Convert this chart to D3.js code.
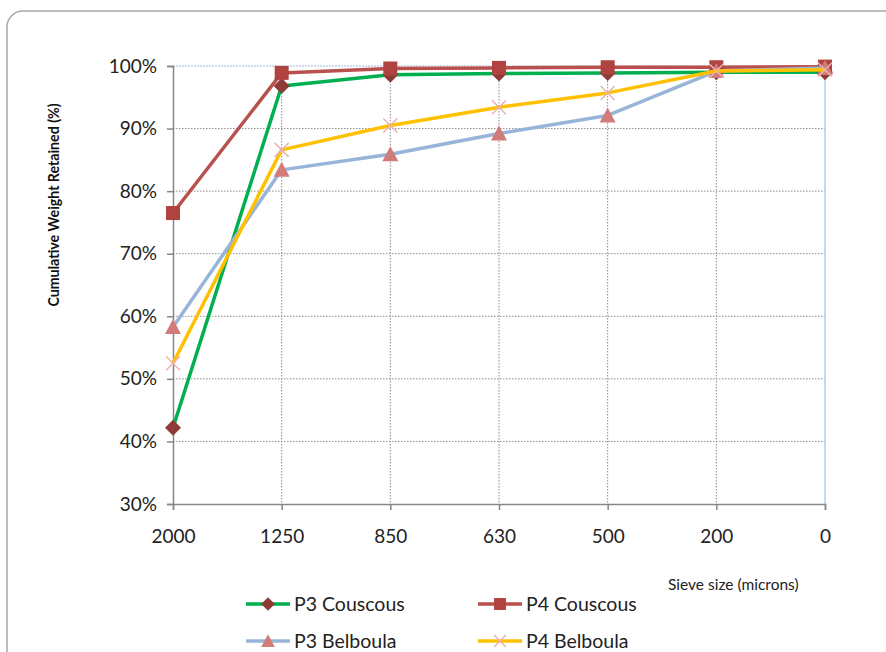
<!DOCTYPE html>
<html><head><meta charset="utf-8">
<script src="https://cdn.jsdelivr.net/npm/d3@7"></script>
<style>body{margin:0;background:#fff}svg{display:block}text{font-family:Lato,"Open Sans",sans-serif}</style>
</head><body>
<svg id="c" width="886" height="652"></svg>
<script>
const categories = ["2000","1250","850","630","500","200","0"];
const p3Couscous = [42.2, 96.8, 98.6, 98.8, 98.9, 99.0, 99.0];
const p4Couscous = [76.5, 98.9, 99.6, 99.7, 99.8, 99.8, 99.9];
const p3Belboula = [58.3, 83.4, 85.9, 89.2, 92.1, 99.2, 99.7];
const p4Belboula = [52.5, 86.6, 90.5, 93.4, 95.7, 99.2, 99.4];
const yTicks = [30,40,50,60,70,80,90,100];
const seriesNames = ["P3 Couscous","P4 Couscous","P3 Belboula","P4 Belboula"];

const series = [
  {name:seriesNames[0], values:p3Couscous, line:"#00B050", mk:"#8E3B38", shape:"diamond"},
  {name:seriesNames[1], values:p4Couscous, line:"#B9504D", mk:"#B0433F", shape:"square"},
  {name:seriesNames[2], values:p3Belboula, line:"#98B4D8", mk:"#D27C7A", shape:"triangle"},
  {name:seriesNames[3], values:p4Belboula, line:"#FFC000", mk:"#E8B4B0", shape:"x"}
];

const svg = d3.select("#c");
// frame
svg.append("rect").attr("x",7).attr("y",11).attr("width",900).attr("height",660)
  .attr("rx",16).attr("fill","#fff").attr("stroke","#a6a6a6").attr("stroke-width",1.5);

const L=173,R=825,T=66,B=504;
const x = d3.scalePoint().domain(categories).range([L,R]);
const y = d3.scaleLinear().domain([30,100]).range([B,T]);

// gridlines
const g = svg.append("g");
g.selectAll(".hg").data(yTicks.filter(t=>t>30 && t<100)).join("line")
  .attr("x1",L).attr("x2",R).attr("y1",d=>y(d)).attr("y2",d=>y(d))
  .attr("stroke","#8c8c8c").attr("stroke-width",1).attr("stroke-dasharray","1.5,1.5");
g.selectAll(".vg").data(categories.slice(1,-1)).join("line")
  .attr("x1",d=>x(d)).attr("x2",d=>x(d)).attr("y1",T).attr("y2",B)
  .attr("stroke","#8c8c8c").attr("stroke-width",1).attr("stroke-dasharray","1.5,1.5");
// plot border top/right light blue
g.append("line").attr("x1",L).attr("x2",R).attr("y1",y(100)).attr("y2",y(100))
  .attr("stroke","#9fb6d6").attr("stroke-width",1).attr("stroke-dasharray","2,1");
g.append("line").attr("x1",R).attr("x2",R).attr("y1",T).attr("y2",B)
  .attr("stroke","#b8cce4").attr("stroke-width",1.5);

// axes
const yAxis = d3.axisLeft(y).tickValues(yTicks).tickFormat(d=>d+"%").tickSize(6).tickPadding(10);
const ya = svg.append("g").attr("transform",`translate(${L},0)`).call(yAxis);
ya.select(".domain").attr("stroke","#868686").attr("stroke-width",1.5);
ya.selectAll(".tick line").attr("stroke","#868686").attr("stroke-width",1.5);
ya.selectAll("text").attr("font-size",19).attr("fill","#222");

const xAxis = d3.axisBottom(x).tickSize(6).tickPadding(20);
const xa = svg.append("g").attr("transform",`translate(0,${B})`).call(xAxis);
xa.select(".domain").attr("stroke","#868686").attr("stroke-width",1.5);
xa.selectAll(".tick line").attr("stroke","#868686").attr("stroke-width",1.5);
xa.selectAll("text").attr("font-size",19).attr("fill","#222");

// titles
svg.append("text").attr("transform","translate(59,205) rotate(-90)").attr("text-anchor","middle")
  .attr("font-size",14.2).attr("font-weight","bold").attr("fill","#111").text("Cumulative Weight Retained (%)");
svg.append("text").attr("x",668).attr("y",590).attr("font-size",15.5).attr("fill","#222").text("Sieve size (microns)");

function marker(sel, s, cx, cy, k){
  k = k||1;
  if(s.shape==="diamond"){
    sel.append("path").attr("d",`M${cx},${cy-8*k}L${cx+8*k},${cy}L${cx},${cy+8*k}L${cx-8*k},${cy}Z`).attr("fill",s.mk);
  } else if(s.shape==="square"){
    sel.append("rect").attr("x",cx-7*k).attr("y",cy-7*k).attr("width",14*k).attr("height",14*k).attr("fill",s.mk);
  } else if(s.shape==="triangle"){
    sel.append("path").attr("d",`M${cx},${cy-8*k}L${cx+8*k},${cy+7*k}L${cx-8*k},${cy+7*k}Z`).attr("fill",s.mk);
  } else {
    sel.append("path").attr("d",`M${cx-7*k},${cy-7*k}L${cx+7*k},${cy+7*k}M${cx+7*k},${cy-7*k}L${cx-7*k},${cy+7*k}`)
      .attr("stroke",s.mk).attr("stroke-width",1.5).attr("fill","none");
  }
}

const line = d3.line().x((d,i)=>x(categories[i])).y(d=>y(d));
series.forEach(s=>{
  const gs = svg.append("g");
  gs.append("path").attr("d",line(s.values)).attr("fill","none").attr("stroke",s.line).attr("stroke-width",3.5).attr("stroke-linejoin","round");
  s.values.forEach((v,i)=>marker(gs,s,x(categories[i]),y(v)));
});

// legend
const legPos = [[246,604],[478,604],[246,641],[478,641]];
series.forEach((s,i)=>{
  const [lx,ly]=legPos[i];
  const gl = svg.append("g");
  gl.append("line").attr("x1",lx).attr("x2",lx+44).attr("y1",ly).attr("y2",ly).attr("stroke",s.line).attr("stroke-width",3.5);
  marker(gl,s,lx+22,ly,0.85);
  gl.append("text").attr("x",lx+48).attr("y",ly+7).attr("font-size",19.5).attr("fill","#222").text(s.name);
});
</script>
</body></html>
